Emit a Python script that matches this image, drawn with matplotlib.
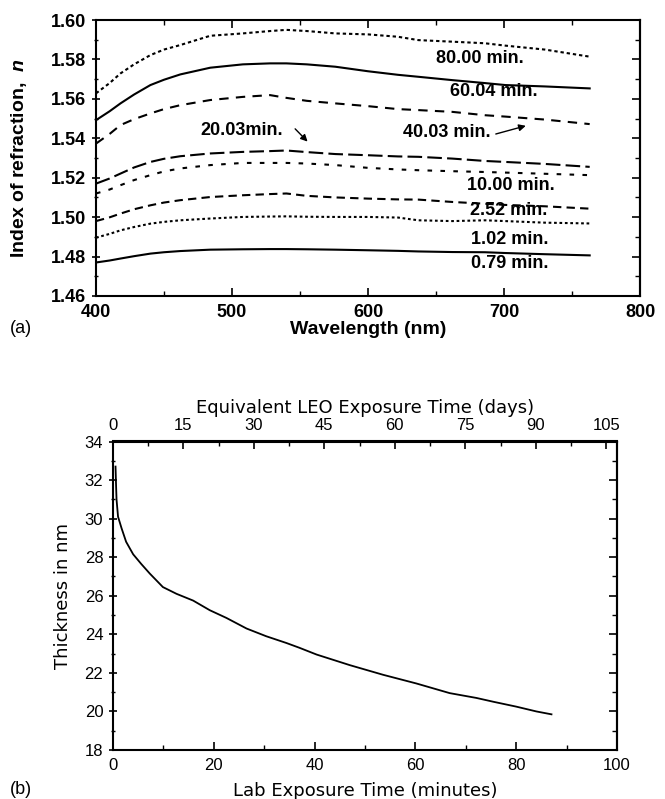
import matplotlib
matplotlib.use("Agg")
import matplotlib.pyplot as plt
import numpy as np
from matplotlib.ticker import MultipleLocator, FixedLocator, FormatStrFormatter

plt.rcParams['font.family'] = ['Liberation Sans', 'DejaVu Sans']
plt.rcParams['mathtext.fontset'] = 'custom'
plt.rcParams['mathtext.bfit'] = 'Liberation Sans:italic:bold'
plt.rcParams['mathtext.it'] = 'Liberation Sans:italic'

# (a) refractive index vs wavelength, one curve per exposure time
wl = [400, 410, 418, 428, 440, 450, 462, 484, 508, 528, 540, 555, 576, 600, 622, 637,
      662, 686, 701, 730, 763]
n_80 = [1.5628, 1.5680, 1.5729, 1.5775, 1.5822, 1.5850, 1.5873, 1.5920, 1.5932, 1.5944,
        1.5950, 1.5944, 1.5932, 1.5927, 1.5915, 1.5898, 1.5890, 1.5882, 1.5870, 1.5850, 1.5814]
n_60 = [1.5492, 1.5537, 1.5577, 1.5622, 1.5670, 1.5697, 1.5724, 1.5758, 1.5775, 1.5780,
        1.5780, 1.5775, 1.5763, 1.5740, 1.5722, 1.5712, 1.5695, 1.5680, 1.5670, 1.5663, 1.5653]
n_40 = [1.5373, 1.5422, 1.5467, 1.5497, 1.5526, 1.5548, 1.5568, 1.5594, 1.5610, 1.5619,
        1.5605, 1.5590, 1.5577, 1.5563, 1.5548, 1.5543, 1.5534, 1.5517, 1.5510, 1.5495, 1.5472]
n_20 = [1.5170, 1.5196, 1.5221, 1.5252, 1.5280, 1.5296, 1.5309, 1.5323, 1.5331, 1.5335,
        1.5338, 1.5330, 1.5320, 1.5314, 1.5308, 1.5306, 1.5297, 1.5285, 1.5280, 1.5270, 1.5255]
n_10 = [1.5120, 1.5140, 1.5162, 1.5188, 1.5213, 1.5232, 1.5247, 1.5264, 1.5275, 1.5275,
        1.5275, 1.5272, 1.5264, 1.5250, 1.5242, 1.5238, 1.5233, 1.5229, 1.5226, 1.5220, 1.5213]
n_2 = [1.4980, 1.4999, 1.5018, 1.5040, 1.5060, 1.5074, 1.5086, 1.5102, 1.5111, 1.5117,
       1.5120, 1.5108, 1.5100, 1.5094, 1.5090, 1.5089, 1.5077, 1.5068, 1.5062, 1.5055, 1.5043]
n_1 = [1.4896, 1.4915, 1.4933, 1.4950, 1.4967, 1.4976, 1.4984, 1.4993, 1.5001, 1.5003,
       1.5004, 1.5002, 1.5001, 1.5001, 1.4998, 1.4984, 1.4980, 1.4984, 1.4980, 1.4972, 1.4968]
n_079 = [1.4770, 1.4780, 1.4790, 1.4802, 1.4815, 1.4822, 1.4828, 1.4835, 1.4837, 1.4838,
         1.4838, 1.4837, 1.4835, 1.4832, 1.4829, 1.4826, 1.4823, 1.4822, 1.4818, 1.4812, 1.4806]

curves = [
    (n_80, (0, (1.6, 1.4)), '80.00 min.', 650, 1.5805),
    (n_60, '-', '60.04 min.', 660, 1.5635),
    (n_40, (0, (4.5, 3.5)), '40.03 min.', 626, 1.5428),
    (n_20, (0, (7, 2.5)), '20.03min.', 477, 1.5441),
    (n_10, (0, (2.2, 4)), '10.00 min.', 673, 1.5162),
    (n_2, (0, (4, 2.5)), '2.52 min.', 675, 1.5035),
    (n_1, (0, (1.3, 1.3)), '1.02 min.', 676, 1.4886),
    (n_079, '-', '0.79 min.', 676, 1.4764),
]

# (b) thickness vs lab exposure time
t_min = [0.5, 0.6, 0.7, 1.0, 1.7, 2.6, 4.0, 5.6, 7.3, 9.9, 12.6, 15.9, 19.2, 22.5, 26.5,
         30.4, 34.4, 37.0, 40.4, 47.0, 53.6, 60.2, 66.8, 72.1, 75.5, 80.0, 84.0, 87.0]
thick = [32.7, 31.8, 31.0, 30.1, 29.5, 28.8, 28.15, 27.65, 27.15, 26.45, 26.1, 25.75, 25.25,
         24.85, 24.3, 23.9, 23.55, 23.3, 22.95, 22.4, 21.9, 21.45, 20.95, 20.7, 20.5, 20.25,
         20.0, 19.85]
days_per_min = 107.3 / 100
day_ticks = [0, 15, 30, 45, 60, 75, 90, 105]

W, H = 665, 799
fig = plt.figure(figsize=(W / 100, H / 100), dpi=100)

# ---- panel (a)
ax1 = fig.add_axes([96 / W, 1 - 296 / H, (640 - 96) / W, (296 - 20) / H])
for vals, ls, lab, tx, ty in curves:
    ax1.plot(wl, vals, color='black', lw=1.5, linestyle=ls)
    ax1.text(tx, ty, lab, fontsize=13, fontweight='bold', ha='left', va='center')
ax1.annotate('', xy=(718, 1.5467), xytext=(692, 1.5418),
             arrowprops=dict(arrowstyle='-|>', color='black', lw=1, mutation_scale=10))
ax1.annotate('', xy=(557, 1.5373), xytext=(545, 1.5458),
             arrowprops=dict(arrowstyle='-|>', color='black', lw=1, mutation_scale=10))
ax1.set_xlim(400, 800)
ax1.set_ylim(1.46, 1.60)
ax1.xaxis.set_major_locator(MultipleLocator(100))
ax1.xaxis.set_minor_locator(MultipleLocator(50))
ax1.yaxis.set_major_locator(MultipleLocator(0.02))
ax1.yaxis.set_minor_locator(MultipleLocator(0.01))
ax1.yaxis.set_major_formatter(FormatStrFormatter('%.2f'))
ax1.tick_params(axis='x', which='both', direction='in', top=True, labelsize=13, pad=6)
ax1.tick_params(axis='y', which='both', direction='inout', labelsize=13, pad=4)
ax1.tick_params(which='major', length=6, width=1.2)
ax1.tick_params(which='minor', length=3.5, width=1)
for lbl in ax1.get_xticklabels() + ax1.get_yticklabels():
    lbl.set_fontweight('bold')
sec1 = ax1.secondary_yaxis('right')
sec1.yaxis.set_major_locator(MultipleLocator(0.02))
sec1.yaxis.set_minor_locator(MultipleLocator(0.01))
sec1.tick_params(which='both', direction='in', labelright=False)
sec1.tick_params(which='major', length=6, width=1.2)
sec1.tick_params(which='minor', length=3.5, width=1)
for sp in list(ax1.spines.values()) + list(sec1.spines.values()):
    sp.set_linewidth(1.5)
ax1.set_xlabel('Wavelength (nm)', fontsize=14, fontweight='bold')
ax1.set_ylabel(r'Index of refraction,  $\mathbfit{n}$', fontsize=14, fontweight='bold')
ax1.xaxis.set_label_coords(0.5, -0.09)
ax1.yaxis.set_label_coords(-0.123, 0.5)
fig.text(10 / W, 1 - 328 / H, '(a)', fontsize=13, ha='left', va='center')

# ---- panel (b)
ax2 = fig.add_axes([113 / W, 1 - 750 / H, (617 - 113) / W, (750 - 441.5) / H])
ax2.plot(t_min, thick, color='black', lw=1.3)
ax2.set_xlim(0, 100)
ax2.set_ylim(18, 34)
ax2.xaxis.set_major_locator(MultipleLocator(20))
ax2.xaxis.set_minor_locator(MultipleLocator(10))
ax2.yaxis.set_major_locator(MultipleLocator(2))
ax2.yaxis.set_minor_locator(MultipleLocator(1))
ax2.tick_params(axis='x', which='both', direction='in', labelsize=12, pad=6)
ax2.tick_params(axis='y', which='both', direction='inout', labelsize=12, pad=4)
ax2.tick_params(which='major', length=6, width=1.2)
ax2.tick_params(which='minor', length=3.5, width=1)
sec2y = ax2.secondary_yaxis('right')
sec2y.yaxis.set_major_locator(MultipleLocator(2))
sec2y.yaxis.set_minor_locator(MultipleLocator(1))
sec2y.tick_params(which='both', direction='in', labelright=False)
sec2y.tick_params(which='major', length=6, width=1.2)
sec2y.tick_params(which='minor', length=3.5, width=1)
sec2x = ax2.secondary_xaxis('top', functions=(lambda m: m * days_per_min,
                                              lambda d: d / days_per_min))
sec2x.xaxis.set_major_locator(FixedLocator(day_ticks))
sec2x.xaxis.set_minor_locator(FixedLocator([d + 7.5 for d in day_ticks[:-1]]))
sec2x.tick_params(which='both', direction='in', labelsize=12, pad=6)
sec2x.tick_params(which='major', length=6, width=1.2)
sec2x.tick_params(which='minor', length=3.5, width=1)
for sp in list(ax2.spines.values()) + list(sec2x.spines.values()) + list(sec2y.spines.values()):
    sp.set_linewidth(1.5)
ax2.set_xlabel('Lab Exposure Time (minutes)', fontsize=13, family='DejaVu Sans')
ax2.set_ylabel('Thickness in nm', fontsize=13, family='DejaVu Sans')
sec2x.set_xlabel('Equivalent LEO Exposure Time (days)', fontsize=13, family='DejaVu Sans')
ax2.xaxis.set_label_coords(0.5, -0.105)
ax2.yaxis.set_label_coords(-0.082, 0.5)
fig.text(10 / W, 1 - 790 / H, '(b)', fontsize=13, ha='left', va='center')

fig.savefig('out.png', dpi=100)
